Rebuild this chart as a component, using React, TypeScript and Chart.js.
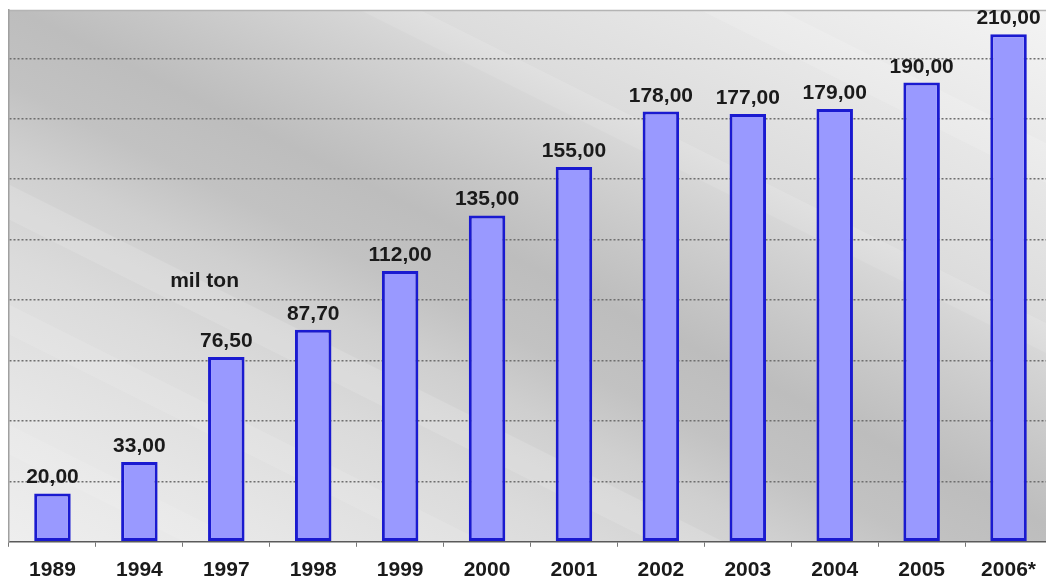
import React, { useEffect, useRef } from "react";
import { Chart, registerables } from "chart.js";

Chart.register(...registerables);

const categories = ["1989", "1994", "1997", "1998", "1999", "2000", "2001", "2002", "2003", "2004", "2005", "2006*"];
const production = [20.0, 33.0, 76.5, 87.7, 112.0, 135.0, 155.0, 178.0, 177.0, 179.0, 190.0, 210.0];
const yMax = 220;
const yStep = 25;
const unitLabel = "mil ton";
const unitLabelAt = { x: 1.75, y: 108 };

const FONT = '"Liberation Sans", Arial, sans-serif';

const fmt = (v: number) => v.toFixed(2).replace(".", ",");

const backgroundPlugin = {
  id: "bgPlugin",
  beforeDraw(chart: any) {
    const { ctx, chartArea: a } = chart;
    ctx.save();
    ctx.beginPath();
    ctx.rect(a.left, a.top, a.right - a.left, a.bottom - a.top);
    ctx.clip();
    const x0 = 1046, y0 = 10;
    const g = ctx.createLinearGradient(x0, y0, x0 - 0.5 * 839, y0 + 839);
    const stops: [number, string][] = [
      [0, "#f4f4f4"],
      [0.2, "#e4e4e4"],
      [0.3, "#dcdcdc"],
      [0.35, "#d3d3d3"],
      [0.43, "#c6c6c6"],
      [0.49, "#bdbdbd"],
      [0.565, "#c2c2c2"],
      [0.63, "#cfcfcf"],
      [0.73, "#dbdbdb"],
      [0.87, "#e6e6e6"],
      [1, "#eeeeee"],
    ];
    stops.forEach(([o, c]) => g.addColorStop(o, c));
    ctx.fillStyle = g;
    ctx.fillRect(a.left, a.top, a.right - a.left, a.bottom - a.top);
    const stripes: [number, number, string][] = [
      [-380, 40, "rgba(255,255,255,0.14)"],
      [-200, 30, "rgba(255,255,255,0.12)"],
      [180, 35, "rgba(255,255,255,0.14)"],
      [300, 30, "rgba(255,255,255,0.12)"],
      [420, 30, "rgba(255,255,255,0.10)"],
    ];
    stripes.forEach(([u, w, c]) => {
      ctx.beginPath();
      ctx.moveTo(-100, -50 + u);
      ctx.lineTo(1200, 600 + u);
      ctx.lineTo(1200, 600 + u + w);
      ctx.lineTo(-100, -50 + u + w);
      ctx.closePath();
      ctx.fillStyle = c;
      ctx.fill();
    });
    ctx.restore();
    ctx.save();
    ctx.strokeStyle = "#b4b4b4";
    ctx.lineWidth = 1.5;
    ctx.beginPath();
    ctx.moveTo(a.left, a.top + 0.5);
    ctx.lineTo(a.right, a.top + 0.5);
    ctx.stroke();
    ctx.restore();
  },
};

const labelPlugin = {
  id: "labelPlugin",
  afterDatasetsDraw(chart: any) {
    const { ctx } = chart;
    const meta = chart.getDatasetMeta(0);
    ctx.save();
    ctx.fillStyle = "#1a1a1a";
    ctx.font = `bold 21px ${FONT}`;
    ctx.textAlign = "center";
    ctx.textBaseline = "alphabetic";
    meta.data.forEach((el: any, i: number) => {
      ctx.fillText(fmt(production[i]), el.x, el.y - 10);
    });
    const xs = chart.scales.x;
    const ys = chart.scales.y;
    ctx.textBaseline = "middle";
    ctx.fillText(unitLabel, xs.getPixelForValue(unitLabelAt.x), ys.getPixelForValue(unitLabelAt.y));
    ctx.restore();
  },
};

export default function App() {
  const ref = useRef<HTMLCanvasElement | null>(null);
  useEffect(() => {
    if (!ref.current) return;
    const chart = new Chart(ref.current, {
      type: "bar",
      data: {
        labels: categories,
        datasets: [
          {
            data: production,
            backgroundColor: "#9999ff",
            borderColor: "#1a1ad0",
            borderWidth: 3,
            borderSkipped: false,
            categoryPercentage: 1,
            barPercentage: 0.42,
          },
        ],
      },
      options: {
        responsive: false,
        animation: false,
        layout: { padding: { left: 9, top: 10, right: 8, bottom: 4 } },
        plugins: { legend: { display: false }, tooltip: { enabled: false } },
        scales: {
          x: {
            grid: {
              offset: true,
              drawOnChartArea: false,
              drawTicks: true,
              tickLength: 5,
              color: "#777",
            },
            border: { display: true, color: "#5a5a5a", width: 1.5 },
            ticks: {
              padding: 11,
              color: "#1a1a1a",
              font: { family: FONT, size: 21, weight: "bold" },
              maxRotation: 0,
              autoSkip: false,
            },
          },
          y: {
            min: 0,
            max: yMax,
            ticks: { display: false, stepSize: yStep },
            grid: {
              drawTicks: false,
              color: (ctx: any) => {
                const v = ctx.tick?.value;
                return v === 0 || v === yMax ? "rgba(0,0,0,0)" : "#6e6e6e";
              },
              lineWidth: 1.5,
            },
            border: { display: true, color: "#a0a0a0", width: 1.5, dash: [2, 2] },
          },
        },
      },
      plugins: [backgroundPlugin, labelPlugin],
    } as any);
    return () => chart.destroy();
  }, []);
  return (
    <div
      style={{
        position: "fixed",
        left: 0,
        top: 0,
        width: 1046,
        height: 586,
        overflow: "hidden",
        background: "#fff",
      }}
    >
      <canvas ref={ref} width={1060} height={598} style={{ display: "block" }} />
    </div>
  );
}
